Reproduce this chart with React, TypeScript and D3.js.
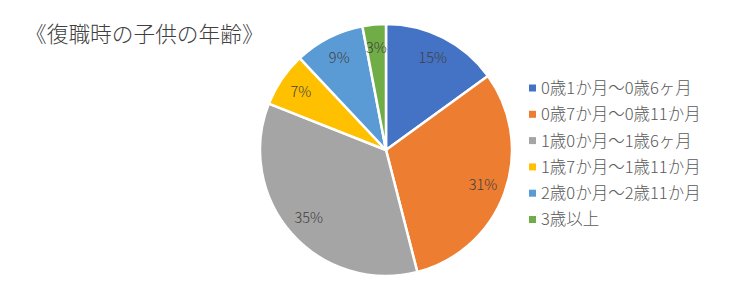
import React from "react";
import * as d3 from "d3";

const categories = [
  "0歳1か月〜0歳6ヶ月",
  "0歳7か月〜0歳11か月",
  "1歳0か月〜1歳6ヶ月",
  "1歳7か月〜1歳11か月",
  "2歳0か月〜2歳11か月",
  "3歳以上",
];
const values = [15, 31, 35, 7, 9, 3];
const colors = ["#4472C4", "#ED7D31", "#A5A5A5", "#FFC000", "#5B9BD5", "#70AD47"];
const title = "《復職時の子供の年齢》";

const FONT = "'Noto Sans CJK JP', 'Noto Sans', sans-serif";

export default function App() {
  const W = 744, H = 291;
  const cx = 386, cy = 150, r = 126;
  const data = categories.map((c, i) => ({ c, v: values[i], i }));
  const pie = d3.pie<any>().value((d) => d.v).sort(null);
  const arcs = pie(data);
  const arc = d3.arc<any>().innerRadius(0).outerRadius(r);
  const labelArc = d3.arc<any>().innerRadius(103).outerRadius(103);
  const total = d3.sum(values);
  return (
    <svg width={W} height={H} style={{ position: "absolute", left: 0, top: 0, background: "#fff" }}>
      <text x={25} y={42} fontSize={21.7} fontWeight={300} fill="#404040" fontFamily={FONT}>{title}</text>
      <g transform={`translate(${cx},${cy})`}>
        {arcs.map((a) => (
          <path key={a.data.c} d={arc(a) as string} fill={colors[a.data.i]} stroke="#fff" strokeWidth={2.5} strokeLinejoin="round" />
        ))}
        {arcs.map((a) => {
          const [x, y] = labelArc.centroid(a);
          return (
            <text key={"l" + a.data.c} x={x} y={y} dy="0.35em" textAnchor="middle" fontSize={14.5} fontWeight={300} fill="#404040" fontFamily={FONT}>
              {Math.round((a.data.v / total) * 100)}%
            </text>
          );
        })}
      </g>
      {categories.map((c, i) => (
        <g key={c} transform={`translate(529,${88 + i * 26.3})`}>
          <rect x={0} y={-3.5} width={7} height={7} fill={colors[i]} />
          <text x={12} y={0} dy="0.36em" fontSize={16.5} fontWeight={300} fill="#595959" fontFamily={FONT}>{c}</text>
        </g>
      ))}
    </svg>
  );
}
